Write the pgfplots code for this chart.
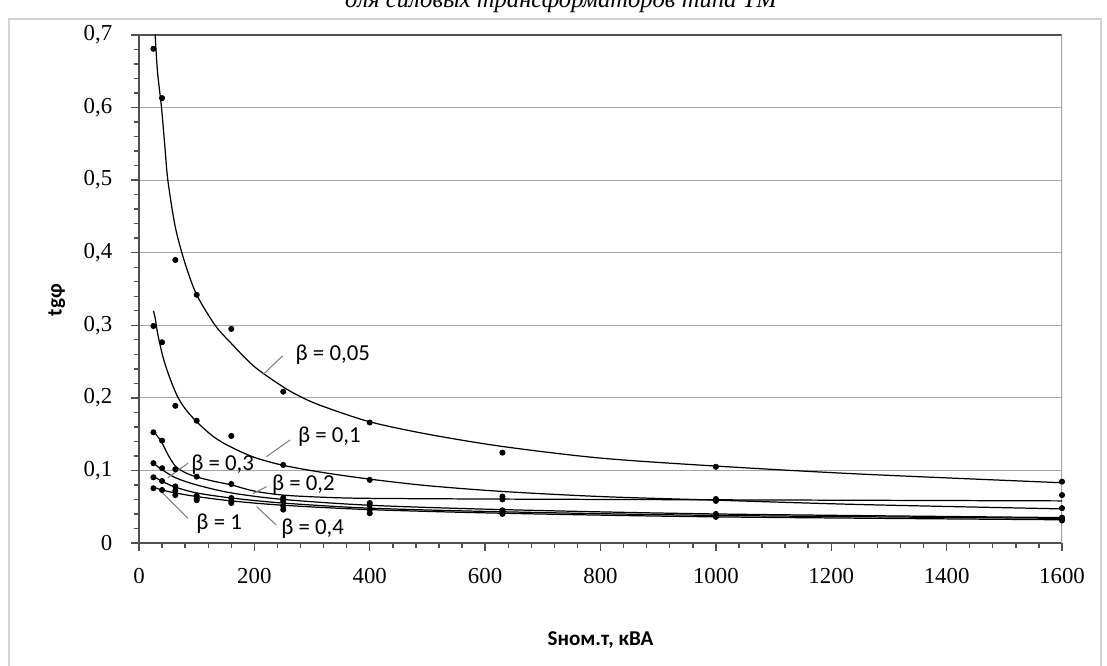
\documentclass[border=0pt]{standalone}
\usepackage{fontspec}
\setmainfont{Liberation Serif}
\newfontfamily\lblfont{Carlito}
\usepackage{pgfplots}
\pgfplotsset{compat=1.18}
\definecolor{gridgray}{RGB}{165,165,165}
\definecolor{axgray}{RGB}{80,80,80}
\begin{document}
\begin{tikzpicture}
\useasboundingbox (0,0) rectangle (22.14,13.32);
\clip (0,0) rectangle (22.14,13.32);
\fill[white] (0,0) rectangle (22.14,13.32);
\draw[gray!35, line width=1.6pt] (0.18,-1) rectangle (22.02,12.94);
\node[anchor=base, font=\fontsize{14}{16}\selectfont\itshape] at (11.22,13.16) {для силовых трансформаторов типа ТМ};
\begin{axis}[
    at={(2.78cm,2.46cm)}, anchor=south west,
    scale only axis, width=18.46cm, height=10.16cm,
    xmin=0, xmax=1600, ymin=0, ymax=0.7,
    xtick={0,200,400,600,800,1000,1200,1400,1600},
    ytick={0,0.1,0.2,0.3,0.4,0.5,0.6,0.7},
    minor x tick num=4, minor y tick num=4,
    axis x line*=bottom, axis y line*=left,
    axis line style={axgray, line width=0.9pt, -},
    tick align=outside,
    major tick length=0.16cm, minor tick length=0.1cm,
    every tick/.style={axgray, line width=0.8pt},
    ymajorgrids, major grid style={gridgray, line width=0.7pt},
    /pgf/number format/assume math mode=true,
    /pgf/number format/use comma,
    /pgf/number format/1000 sep={},
    yticklabel style={/pgf/number format/fixed, /pgf/number format/precision=1},
    tick label style={font=\fontsize{13}{15}\selectfont},
    xticklabel style={yshift=-0.22cm},
    yticklabel shift=0.25cm,
    xlabel={Sном.т, кВА}, ylabel={tgφ},
    label style={font=\lblfont\bfseries\fontsize{12}{14}\selectfont},
    xlabel style={at={(axis description cs:0.5,-0.19)}, anchor=center},
    ylabel style={at={(axis description cs:-0.089,0.478)}, anchor=center},
    clip=true,
]
% top and right border of the plot area
\draw[axgray, line width=1.2pt] (rel axis cs:0,1) -- (rel axis cs:1,1);
\draw[gridgray, line width=0.7pt] (rel axis cs:1,0) -- (rel axis cs:1,1);

% trend curves
\addplot[black, line width=0.7pt, smooth] coordinates {
 (25,0.74) (28,0.70) (32,0.65) (39,0.60) (45,0.545) (50,0.50) (63,0.435)
 (80,0.385) (100,0.342) (132,0.30) (160,0.275) (200,0.243) (250,0.215)
 (284,0.20) (320,0.188) (400,0.167) (500,0.150) (630,0.133) (800,0.117)
 (1000,0.106) (1250,0.095) (1600,0.083)};
\addplot[black, line width=0.7pt, smooth] coordinates {
 (25,0.32) (28,0.31) (32,0.29) (36,0.275) (42,0.255) (50,0.235) (60,0.214)
 (68,0.20) (80,0.185) (100,0.167) (130,0.146) (160,0.132) (200,0.118)
 (250,0.107) (320,0.097) (400,0.088) (500,0.079) (630,0.071) (800,0.064)
 (1000,0.059) (1250,0.053) (1600,0.047)};
\addplot[black, line width=0.7pt, smooth] coordinates {
 (25,0.155) (32,0.147) (40,0.138) (50,0.122) (63,0.106) (80,0.097)
 (100,0.091) (130,0.085) (160,0.080) (200,0.0715) (250,0.066) (320,0.063)
 (400,0.0615) (630,0.0605) (1000,0.0595) (1600,0.058)};
\addplot[black, line width=0.7pt, smooth] coordinates {
 (25,0.110) (40,0.101) (63,0.090) (100,0.080) (160,0.069) (250,0.060)
 (400,0.052) (630,0.046) (1000,0.040) (1600,0.035)};
\addplot[black, line width=0.7pt, smooth] coordinates {
 (25,0.092) (40,0.085) (63,0.077) (100,0.069) (160,0.062) (250,0.055)
 (400,0.048) (630,0.043) (1000,0.038) (1600,0.034)};
\addplot[black, line width=0.7pt, smooth] coordinates {
 (25,0.077) (40,0.073) (63,0.069) (100,0.064) (160,0.058) (250,0.052)
 (400,0.046) (630,0.041) (1000,0.036) (1600,0.032)};

% measured points
\addplot[only marks, mark=*, mark size=1.5pt, black] coordinates {
 (25,0.681) (40,0.613) (63,0.39) (100,0.342) (160,0.295) (250,0.2085)
 (400,0.166) (630,0.1245) (1000,0.105) (1600,0.0845)};
\addplot[only marks, mark=*, mark size=1.5pt, black] coordinates {
 (25,0.299) (40,0.2766) (63,0.189) (100,0.1685) (160,0.1475) (250,0.1075)
 (400,0.087) (630,0.064) (1000,0.0606) (1600,0.066)};
\addplot[only marks, mark=*, mark size=1.5pt, black] coordinates {
 (25,0.1525) (40,0.141) (63,0.1016) (100,0.0914) (160,0.0813) (250,0.062)
 (400,0.055) (630,0.060) (1000,0.058) (1600,0.048)};
\addplot[only marks, mark=*, mark size=1.5pt, black] coordinates {
 (25,0.110) (40,0.103) (63,0.078) (100,0.065) (160,0.062) (250,0.058)
 (400,0.052) (630,0.045) (1000,0.040) (1600,0.035)};
\addplot[only marks, mark=*, mark size=1.5pt, black] coordinates {
 (25,0.0905) (40,0.0854) (63,0.072) (100,0.061) (160,0.058) (250,0.051)
 (400,0.046) (630,0.042) (1000,0.038) (1600,0.033)};
\addplot[only marks, mark=*, mark size=1.5pt, black] coordinates {
 (25,0.0754) (40,0.073) (63,0.066) (100,0.059) (160,0.055) (250,0.046)
 (400,0.041) (630,0.040) (1000,0.036) (1600,0.031)};

% curve labels with leader lines
\tikzset{blbl/.style={font=\lblfont\fontsize{13}{15}\selectfont, inner sep=1pt}}
\node[blbl] at (axis cs:336,0.259) {β = 0,05};
\draw[gray, line width=0.6pt] (axis cs:249,0.258) -- (axis cs:215,0.232);
\node[blbl] at (axis cs:330,0.1465) {β = 0,1};
\draw[gray, line width=0.6pt] (axis cs:262,0.142) -- (axis cs:221,0.119);
\node[blbl] at (axis cs:145,0.1075) {β = 0,3};
\draw[gray, line width=0.6pt] (axis cs:85,0.110) -- (axis cs:50,0.090);
\node[blbl] at (axis cs:285,0.080) {β = 0,2};
\draw[gray, line width=0.6pt] (axis cs:221,0.0776) -- (axis cs:198,0.068);
\node[blbl] at (axis cs:139,0.027) {β = 1};
\draw[gray, line width=0.6pt] (axis cs:85,0.034) -- (axis cs:36,0.073);
\node[blbl] at (axis cs:301,0.020) {β = 0,4};
\draw[gray, line width=0.6pt] (axis cs:238,0.0248) -- (axis cs:204,0.050);
\end{axis}
\end{tikzpicture}
\end{document}
